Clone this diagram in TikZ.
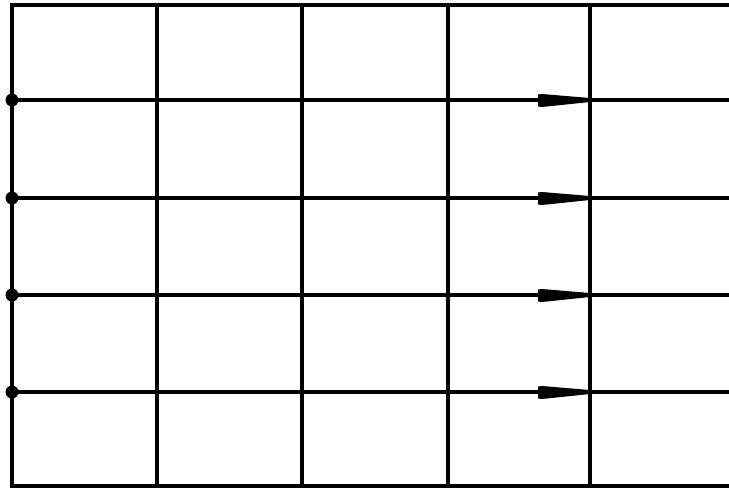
\documentclass[tikz,border=0pt]{standalone}
\begin{document}
\begin{tikzpicture}[x=1pt,y=-1pt,
  gridline/.style={line width=3.2pt,line cap=round},
  dotnode/.style={circle,fill=black,inner sep=0pt,minimum size=13pt},
  wedge/.style={fill=black}]
\useasboundingbox (0,0) rectangle (729,493);
% outer frame (open at the right, cut off)
\coordinate (tl) at (12,5);
\coordinate (bl) at (12,486);
\coordinate (tr) at (729,5);
\coordinate (br) at (729,486);
\draw[gridline] (tr) -- (tl) -- (bl) -- (br);
% vertical lines
\foreach \i/\x in {1/157,2/302,3/448,4/590}{
  \coordinate (vt\i) at (\x,5);
  \coordinate (vb\i) at (\x,486);
  \draw[gridline] (vt\i) -- (vb\i);
}
% horizontal lines with dots and arrows
\foreach \i/\y in {1/100,2/198,3/295,4/392}{
  \node[dotnode] (d\i) at (12,\y) {};
  \coordinate (r\i) at (729,\y);
  \coordinate (a\i) at (590,\y);
  \draw[gridline] (d\i.center) -- (r\i);
  \fill[wedge] ([xshift=-52pt,yshift=-6.5pt]a\i) -- ([xshift=-48pt,yshift=-7pt]a\i) -- ([yshift=-2pt]a\i) -- ([yshift=2pt]a\i) -- ([xshift=-48pt,yshift=6pt]a\i) -- ([xshift=-52pt,yshift=5.5pt]a\i) -- cycle;
}
\end{tikzpicture}
\end{document}
